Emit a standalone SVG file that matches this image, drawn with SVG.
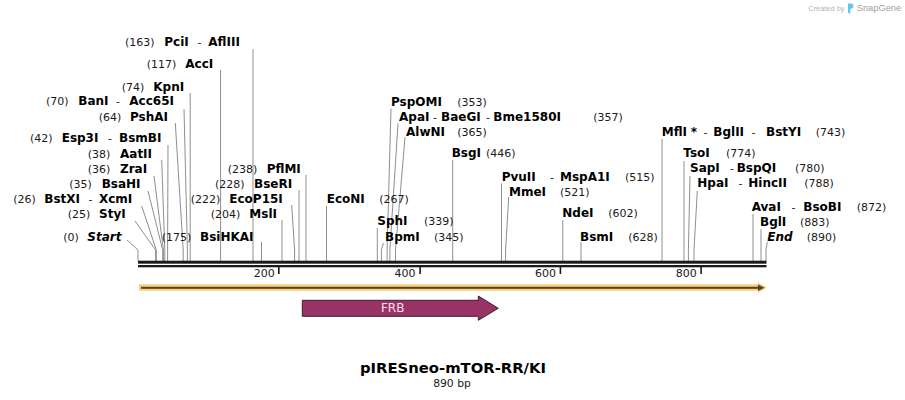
<svg xmlns="http://www.w3.org/2000/svg" width="905" height="400" viewBox="0 0 905 400">
<style>
.n{font-family:"DejaVu Sans",Verdana,sans-serif;font-weight:bold;font-size:12px;fill:#000}
.i{font-family:"DejaVu Sans",Verdana,sans-serif;font-weight:bold;font-style:italic;font-size:12px;fill:#000}
.p{font-family:"DejaVu Sans",Verdana,sans-serif;font-size:11px;fill:#1a1a1a}
.t{font-family:"DejaVu Sans",Verdana,sans-serif;font-size:11px;fill:#1a1a1a;text-anchor:end}
.ld{fill:none;stroke:#8f8f8f;stroke-width:1}
.bb{fill:#1a1a1a}
</style>
<rect width="905" height="400" fill="#fff"/>

<g id="watermark">
<text x="808.3" y="10.5" style="font-family:'Liberation Sans',Arial,sans-serif;font-size:7.4px;fill:#b4b4b4">Created by</text>
<path d="M848,3.5 h2.8 a2.6,2.6 0 0 1 0,5.2 h-0.4 v5.3 l-2.4,-1.4 z" fill="#62c6ee"/>
<text x="856.7" y="11" style="font-family:'Liberation Sans',Arial,sans-serif;font-size:9.3px;fill:#a0a0a0">SnapGene</text>
</g>

<g id="connectors">
<polyline class="ld" points="253,49 253,261"/>
<polyline class="ld" points="220.6,70 220.6,261"/>
<polyline class="ld" points="190.2,93 190.2,261"/>
<polyline class="ld" points="184,109 187.4,250 187.4,261"/>
<polyline class="ld" points="175.3,123 183.2,250 183.2,261"/>
<polyline class="ld" points="168,145 167.6,250 167.6,261"/>
<polyline class="ld" points="161.7,160 164.8,250 164.8,261"/>
<polyline class="ld" points="154,176 163.4,250 163.4,261"/>
<polyline class="ld" points="148,191 162.7,250 162.7,261"/>
<polyline class="ld" points="141.7,206 156.3,250 156.3,261"/>
<polyline class="ld" points="135,221 155.6,250 155.6,261"/>
<polyline class="ld" points="127,240 138,250 138,261"/>
<polyline class="ld" points="306,175 306,261"/>
<polyline class="ld" points="299,190 299,261"/>
<polyline class="ld" points="291.7,205 294.6,250 294.6,261"/>
<polyline class="ld" points="282,220 282,261"/>
<polyline class="ld" points="261.5,242 261.5,261"/>
<polyline class="ld" points="326.5,206 326.5,261"/>
<polyline class="ld" points="391,108.5 387.1,250 387.1,261"/>
<polyline class="ld" points="398,123.5 389.9,250 389.9,261"/>
<polyline class="ld" points="405,137 395.5,250 395.5,261"/>
<polyline class="ld" points="452.7,160 452.7,261"/>
<polyline class="ld" points="501.5,183.5 501.5,261"/>
<polyline class="ld" points="508.7,197 505.6,250 505.6,261"/>
<polyline class="ld" points="377.3,228 377.3,261"/>
<polyline class="ld" points="383.3,243 381.4,250 381.4,261"/>
<polyline class="ld" points="562.8,220 562.8,261"/>
<polyline class="ld" points="581,242 581,261"/>
<polyline class="ld" points="662,139 662,261"/>
<polyline class="ld" points="684,161 684,261"/>
<polyline class="ld" points="690,176 688.4,250 688.4,261"/>
<polyline class="ld" points="697.3,191 694,250 694,261"/>
<polyline class="ld" points="753,214 753,261"/>
<polyline class="ld" points="761,229 761,261"/>
<polyline class="ld" points="767.3,242 766,250 766,261"/>
</g>

<g id="site-PciI"><text y="46"><tspan class="p" x="125">(163)</tspan><tspan class="n" x="164.3">PciI</tspan><tspan class="p" x="197.5">-</tspan><tspan class="n" x="208.3">AflIII</tspan></text></g>
<g id="site-AccI"><text y="67.5"><tspan class="p" x="146.7">(117)</tspan><tspan class="n" x="185.3">AccI</tspan></text></g>
<g id="site-KpnI"><text y="91"><tspan class="p" x="121.7">(74)</tspan><tspan class="n" x="153.3">KpnI</tspan></text></g>
<g id="site-BanI"><text y="105"><tspan class="p" x="46">(70)</tspan><tspan class="n" x="78.3">BanI</tspan><tspan class="p" x="116">-</tspan><tspan class="n" x="129.3">Acc65I</tspan></text></g>
<g id="site-PshAI"><text y="120.7"><tspan class="p" x="98.7">(64)</tspan><tspan class="n" x="130">PshAI</tspan></text></g>
<g id="site-Esp3I"><text y="142.3"><tspan class="p" x="30">(42)</tspan><tspan class="n" x="61.7">Esp3I</tspan><tspan class="p" x="108">-</tspan><tspan class="n" x="119">BsmBI</tspan></text></g>
<g id="site-AatII"><text y="157.5"><tspan class="p" x="87.7">(38)</tspan><tspan class="n" x="120">AatII</tspan></text></g>
<g id="site-ZraI"><text y="172.7"><tspan class="p" x="87.7">(36)</tspan><tspan class="n" x="120">ZraI</tspan></text></g>
<g id="site-BsaHI"><text y="187.7"><tspan class="p" x="69.3">(35)</tspan><tspan class="n" x="101.7">BsaHI</tspan></text></g>
<g id="site-BstXI"><text y="202.7"><tspan class="p" x="13.3">(26)</tspan><tspan class="n" x="44.3">BstXI</tspan><tspan class="p" x="88.5">-</tspan><tspan class="n" x="99">XcmI</tspan></text></g>
<g id="site-StyI"><text y="217.7"><tspan class="p" x="67.7">(25)</tspan><tspan class="n" x="99">StyI</tspan></text></g>
<g id="site-Start"><text y="240.5"><tspan class="p" x="63.3">(0)</tspan><tspan class="i" x="87.3">Start</tspan></text></g>
<g id="site-PflMI"><text y="172.7"><tspan class="p" x="227.7">(238)</tspan><tspan class="n" x="266.7">PflMI</tspan></text></g>
<g id="site-BseRI"><text y="187.7"><tspan class="p" x="215">(228)</tspan><tspan class="n" x="254">BseRI</tspan></text></g>
<g id="site-EcoP15I"><text y="202.7"><tspan class="p" x="190.7">(222)</tspan><tspan class="n" x="229.3">EcoP15I</tspan></text></g>
<g id="site-MslI"><text y="217.5"><tspan class="p" x="210.7">(204)</tspan><tspan class="n" x="249.3">MslI</tspan></text></g>
<g id="site-BsiHKAI"><text y="240.7"><tspan class="p" x="161.7">(175)</tspan><tspan class="n" x="200">BsiHKAI</tspan></text></g>
<g id="site-EcoNI"><text y="202.7"><tspan class="n" x="326.7">EcoNI</tspan><tspan class="p" x="379.3">(267)</tspan></text></g>
<g id="site-PspOMI"><text y="105.7"><tspan class="n" x="391">PspOMI</tspan><tspan class="p" x="457.3">(353)</tspan></text></g>
<g id="site-ApaI"><text y="120.7"><tspan class="n" x="399">ApaI</tspan><tspan class="p" x="433">-</tspan><tspan class="n" x="441">BaeGI</tspan><tspan class="p" x="486">-</tspan><tspan class="n" x="493.3">Bme1580I</tspan><tspan class="p" x="593.3">(357)</tspan></text></g>
<g id="site-AlwNI"><text y="135.7"><tspan class="n" x="406">AlwNI</tspan><tspan class="p" x="457.3">(365)</tspan></text></g>
<g id="site-BsgI"><text y="156.5"><tspan class="n" x="451.7">BsgI</tspan><tspan class="p" x="486">(446)</tspan></text></g>
<g id="site-PvuII"><text y="180.7"><tspan class="n" x="501.7">PvuII</tspan><tspan class="p" x="550">-</tspan><tspan class="n" x="560">MspA1I</tspan><tspan class="p" x="625">(515)</tspan></text></g>
<g id="site-MmeI"><text y="196"><tspan class="n" x="509">MmeI</tspan><tspan class="p" x="560">(521)</tspan></text></g>
<g id="site-SphI"><text y="225"><tspan class="n" x="377.3">SphI</tspan><tspan class="p" x="424">(339)</tspan></text></g>
<g id="site-BpmI"><text y="240.7"><tspan class="n" x="385">BpmI</tspan><tspan class="p" x="434">(345)</tspan></text></g>
<g id="site-NdeI"><text y="217.3"><tspan class="n" x="562.3">NdeI</tspan><tspan class="p" x="608.3">(602)</tspan></text></g>
<g id="site-BsmI"><text y="240.7"><tspan class="n" x="580">BsmI</tspan><tspan class="p" x="628.3">(628)</tspan></text></g>
<g id="site-MflI"><text y="135.7"><tspan class="n" x="661.7">MflI</tspan><tspan class="n" x="690.7">*</tspan><tspan class="p" x="703.5">-</tspan><tspan class="n" x="713.3">BglII</tspan><tspan class="p" x="751.5">-</tspan><tspan class="n" x="766">BstYI</tspan><tspan class="p" x="815.7">(743)</tspan></text></g>
<g id="site-TsoI"><text y="157.3"><tspan class="n" x="683.3">TsoI</tspan><tspan class="p" x="726">(774)</tspan></text></g>
<g id="site-SapI"><text y="172.3"><tspan class="n" x="690">SapI</tspan><tspan class="p" x="730">-</tspan><tspan class="n" x="736.7">BspQI</tspan><tspan class="p" x="795">(780)</tspan></text></g>
<g id="site-HpaI"><text y="187.3"><tspan class="n" x="697.3">HpaI</tspan><tspan class="p" x="738.5">-</tspan><tspan class="n" x="748.3">HincII</tspan><tspan class="p" x="804.3">(788)</tspan></text></g>
<g id="site-AvaI"><text y="210.7"><tspan class="n" x="751.7">AvaI</tspan><tspan class="p" x="791.5">-</tspan><tspan class="n" x="803.3">BsoBI</tspan><tspan class="p" x="856.7">(872)</tspan></text></g>
<g id="site-BglI"><text y="225.7"><tspan class="n" x="760">BglI</tspan><tspan class="p" x="800">(883)</tspan></text></g>
<g id="site-End"><text y="240.7"><tspan class="i" x="767.3">End</tspan><tspan class="p" x="806.7">(890)</tspan></text></g>

<g id="backbone">
<rect class="bb" x="138" y="260.7" width="628.5" height="3"/>
<rect class="bb" x="138" y="265" width="628.5" height="2.3"/>
<rect class="bb" x="278" y="267" width="1.6" height="7"/>
<rect class="bb" x="419.3" y="267" width="1.6" height="7"/>
<rect class="bb" x="559.6" y="267" width="1.6" height="7"/>
<rect class="bb" x="700.3" y="267" width="1.6" height="7"/>
<text class="t" x="274.7" y="277">200</text>
<text class="t" x="415.5" y="277">400</text>
<text class="t" x="556" y="277">600</text>
<text class="t" x="696.7" y="277">800</text>
</g>

<g id="strand-arrow">
<rect x="139" y="284.3" width="620" height="6.4" fill="#fbcf76"/>
<polygon points="758,282.5 767,287.6 758,292.7" fill="#fbcf76"/>
<rect x="141" y="286.8" width="618" height="2" fill="#4f4432"/>
<polygon points="758,284.6 764.5,287.8 758,291" fill="#4f4432"/>
</g>

<g id="feature-FRB">
<polygon points="302.3,300.3 478.3,300.3 478.3,296 498.3,308.3 478.3,320.3 478.3,316.3 302.3,316.3" fill="#993366" stroke="#3a2030" stroke-width="1"/>
<text x="392.7" y="312" text-anchor="middle" style="font-family:'DejaVu Sans',sans-serif;font-size:12px;fill:#f5e1ea">FRB</text>
</g>

<g id="title">
<text x="453" y="373.3" text-anchor="middle" textLength="186" lengthAdjust="spacingAndGlyphs" style="font-family:'DejaVu Sans',Verdana,sans-serif;font-weight:bold;font-size:14px;fill:#000">pIRESneo-mTOR-RR/KI</text>
<text x="452" y="386.7" text-anchor="middle" style="font-family:'DejaVu Sans',Verdana,sans-serif;font-size:10.8px;fill:#1a1a1a">890 bp</text>
</g>
</svg>
